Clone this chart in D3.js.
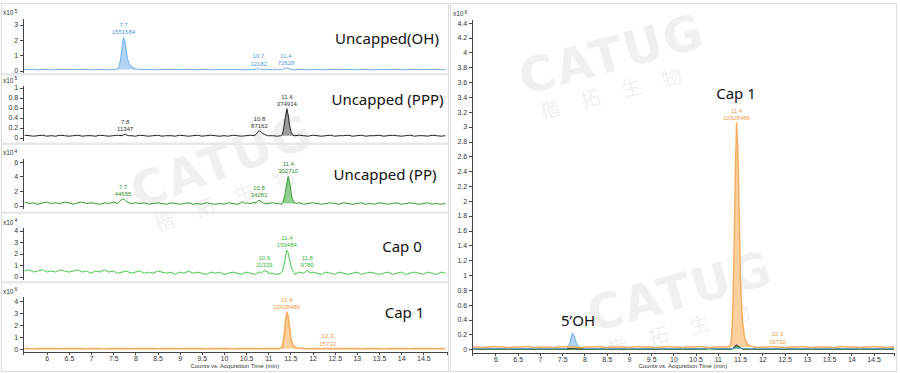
<!DOCTYPE html>
<html>
<head>
<meta charset="utf-8">
<script src="https://cdn.jsdelivr.net/npm/d3@7"></script>
<style>
  body { margin: 0; background: #fff; }
  svg { display: block; font-family: "Liberation Sans", Arial, sans-serif; }
  .axis path, .axis line { stroke: #444; shape-rendering: crispEdges; }
  .axis text { fill: #333; font-size: 7px; }
  .title { font-family: "Noto Sans", "Open Sans", sans-serif; font-size: 15px; fill: #111; }
</style>
</head>
<body>
<div class="chart"></div>
<script>
// stored chromatograms: scan start (min) and scan step (min)
const scanStart = 5.5;
const scanStep = 0.1;

// baselines, one value per scan (units of each panel's x10^n)
const ohBase = [0.08,0.07,0.09,0.06,0.08,0.07,0.06,0.08,0.07,0.09,
  0.07,0.06,0.08,0.07,0.08,0.06,0.07,0.09,0.07,0.06,
  0.08,0.07,0.06,0.08,0.07,0.08,0.09,0.08,0.07,0.06,
  0.07,0.08,0.06,0.07,0.08,0.07,0.06,0.07,0.08,0.06,
  0.07,0.08,0.07,0.06,0.07,0.08,0.07,0.06,0.08,0.07,
  0.06,0.07,0.08,0.07,0.06,0.08,0.07,0.06,0.07,0.08,
  0.07,0.06,0.08,0.07,0.06,0.07,0.08,0.07,0.06,0.07,
  0.08,0.07,0.06,0.08,0.07,0.06,0.07,0.08,0.07,0.06,
  0.07,0.08,0.07,0.06,0.08,0.07,0.06,0.07,0.08,0.07,
  0.06,0.07,0.08,0.07,0.06,0.07];
const pppBase = [0.05,0.04,0.03,0.04,0.05,0.03,0.04,0.03,0.05,0.04,
  0.03,0.04,0.05,0.03,0.04,0.04,0.03,0.05,0.04,0.03,
  0.04,0.05,0.04,0.03,0.04,0.03,0.05,0.04,0.03,0.04,
  0.05,0.03,0.04,0.04,0.03,0.05,0.04,0.03,0.04,0.05,
  0.03,0.04,0.05,0.04,0.03,0.04,0.03,0.05,0.04,0.03,
  0.04,0.05,0.03,0.04,0.05,0.04,0.04,0.03,0.05,0.04,
  0.03,0.04,0.05,0.04,0.03,0.05,0.04,0.03,0.04,0.05,
  0.03,0.04,0.04,0.05,0.03,0.04,0.05,0.03,0.04,0.04,
  0.05,0.03,0.04,0.05,0.04,0.03,0.04,0.05,0.03,0.04,
  0.04,0.03,0.05,0.04,0.03,0.04];
const ppBase = [0.5,0.3,0.4,0.2,0.4,0.5,0.3,0.4,0.3,0.5,
  0.4,0.2,0.4,0.5,0.3,0.4,0.3,0.2,0.4,0.3,
  0.5,0.3,0.4,0.3,0.2,0.4,0.3,0.4,0.2,0.3,
  0.4,0.3,0.2,0.4,0.3,0.2,0.3,0.4,0.2,0.3,
  0.2,0.4,0.3,0.2,0.3,0.2,0.4,0.3,0.2,0.3,
  0.4,0.3,0.5,0.3,0.2,0.3,0.4,0.3,0.2,0.3,
  0.2,0.3,0.4,0.2,0.3,0.4,0.3,0.2,0.3,0.4,
  0.3,0.2,0.4,0.3,0.2,0.3,0.4,0.2,0.3,0.2,
  0.4,0.3,0.2,0.3,0.4,0.2,0.3,0.4,0.3,0.2,
  0.3,0.4,0.2,0.3,0.2,0.3];
const cap0Base = [0.5,0.6,0.4,0.5,0.6,0.4,0.5,0.4,0.6,0.5,
  0.4,0.5,0.6,0.4,0.5,0.3,0.5,0.4,0.6,0.4,
  0.5,0.3,0.4,0.5,0.3,0.4,0.5,0.3,0.4,0.3,
  0.5,0.4,0.3,0.4,0.2,0.4,0.3,0.5,0.3,0.4,
  0.3,0.2,0.4,0.3,0.4,0.2,0.3,0.4,0.3,0.2,
  0.4,0.3,0.2,0.4,0.3,0.4,0.3,0.2,0.3,0.4,
  0.3,0.2,0.4,0.3,0.2,0.4,0.3,0.2,0.4,0.3,
  0.2,0.4,0.3,0.2,0.3,0.4,0.2,0.3,0.4,0.3,
  0.2,0.3,0.4,0.2,0.3,0.4,0.2,0.3,0.4,0.3,
  0.2,0.4,0.3,0.2,0.4,0.3];
const cap1Base = [0.03,0.03,0.02,0.03,0.03,0.04,0.03,0.03,0.02,0.03,
  0.03,0.03,0.04,0.03,0.02,0.03,0.03,0.03,0.02,0.03,
  0.03,0.04,0.03,0.03,0.02,0.03,0.03,0.03,0.04,0.03,
  0.02,0.03,0.03,0.03,0.03,0.02,0.03,0.04,0.03,0.03,
  0.03,0.02,0.03,0.03,0.04,0.03,0.03,0.02,0.03,0.03,
  0.03,0.04,0.03,0.02,0.03,0.03,0.03,0.03,0.02,0.03,
  0.04,0.03,0.03,0.03,0.02,0.03,0.03,0.04,0.03,0.03,
  0.02,0.03,0.03,0.03,0.04,0.03,0.02,0.03,0.03,0.03,
  0.03,0.02,0.03,0.04,0.03,0.03,0.03,0.02,0.03,0.03,
  0.04,0.03,0.03,0.02,0.03,0.03];

// peaks as [time, value] points
const ohPeaks = [
  [[7.58,0.08],[7.63,0.25],[7.67,0.8],[7.7,1.6],[7.73,2.18],[7.76,1.95],[7.79,1.35],[7.82,0.8],[7.86,0.45],[7.91,0.25],[7.97,0.15],[8.04,0.1],[8.1,0.08]],
  [[10.7,0.07],[10.74,0.1],[10.78,0.13],[10.82,0.1],[10.86,0.07]],
  [[11.3,0.07],[11.35,0.12],[11.4,0.17],[11.45,0.15],[11.5,0.1],[11.56,0.07]]
];
const pppPeaks = [
  [[7.7,0.04],[7.74,0.06],[7.77,0.07],[7.81,0.05],[7.85,0.04]],
  [[10.68,0.04],[10.73,0.07],[10.77,0.12],[10.8,0.14],[10.84,0.11],[10.88,0.08],[10.93,0.06],[10.98,0.04]],
  [[11.28,0.04],[11.32,0.07],[11.35,0.2],[11.38,0.38],[11.42,0.58],[11.45,0.45],[11.48,0.25],[11.52,0.1],[11.56,0.05],[11.6,0.04]]
];
const ppPeaks = [
  [[7.6,0.35],[7.65,0.6],[7.69,0.85],[7.72,0.95],[7.76,0.8],[7.8,0.55],[7.86,0.4],[7.92,0.3]],
  [[10.36,0.3],[10.41,0.55],[10.46,0.3]],
  [[10.7,0.3],[10.74,0.45],[10.79,0.75],[10.83,0.6],[10.88,0.4],[10.93,0.3]],
  [[11.3,0.3],[11.34,0.6],[11.38,1.6],[11.42,3.1],[11.45,4.0],[11.48,3.3],[11.51,2.0],[11.54,1.0],[11.58,0.5],[11.63,0.3]]
];
const cap0Peaks = [
  [[10.84,0.3],[10.88,0.45],[10.91,0.55],[10.95,0.45],[11.0,0.3]],
  [[11.28,0.3],[11.32,0.5],[11.36,1.1],[11.39,1.8],[11.42,2.3],[11.45,2.1],[11.48,1.5],[11.52,0.8],[11.56,0.45],[11.6,0.3]],
  [[11.8,0.3],[11.84,0.45],[11.88,0.55],[11.92,0.4],[11.96,0.3]]
];
const cap1Peaks = [
  [[11.26,0.03],[11.3,0.1],[11.33,0.4],[11.36,1.2],[11.39,2.3],[11.42,3.05],[11.45,2.7],[11.48,1.8],[11.51,0.9],[11.55,0.4],[11.6,0.15],[11.66,0.07],[11.74,0.04],[11.82,0.03]],
  [[12.3,0.03],[12.34,0.035],[12.38,0.03]]
];

// peak labels (RT, area), null = unlabeled
const ohLabels = [["7.7","1551684"],["10.7","12182"],["11.4","72628"]];
const pppLabels = [["7.8","11347"],["10.8","87162"],["11.4","374914"]];
const ppLabels = [["7.7","44655"],null,["10.8","34281"],["11.4","302710"]];
const cap0Labels = [["10.9","11339"],["11.4","159484"],["11.8","9780"]];
const cap1Labels = [["11.4","22628486"],["12.3","15732"]];

const titles = ["Uncapped(OH)", "Uncapped (PPP)", "Uncapped (PP)", "Cap 0", "Cap 1"];
const exponents = [5, 5, 4, 4, 6];
const filledPeak = [0, 2, 3, -1, 0];
const leftYTicks = [[0,1,2,3],[0,0.2,0.4,0.6,0.8,1],[0,2,4,6],[0,1,2,3,4],[0,1,2,3,4]];
const rightYTicks = [0,0.2,0.4,0.6,0.8,1,1.2,1.4,1.6,1.8,2,2.2,2.4,2.6,2.8,3,3.2,3.4,3.6,3.8,4,4.2,4.4];
const xTicks = [6,6.5,7,7.5,8,8.5,9,9.5,10,10.5,11,11.5,12,12.5,13,13.5,14,14.5];

const traces = [
  { base: ohBase, peaks: ohPeaks, labels: ohLabels, line: "#6aaeee", fill: "#b3d5f5", text: "#4f98e0" },
  { base: pppBase, peaks: pppPeaks, labels: pppLabels, line: "#222", fill: "#9c9c9c", text: "#333" },
  { base: ppBase, peaks: ppPeaks, labels: ppLabels, line: "#2f9b2f", fill: "#92d092", text: "#2f8f2f" },
  { base: cap0Base, peaks: cap0Peaks, labels: cap0Labels, line: "#45c945", fill: "#a8e6a8", text: "#3bb93b" },
  { base: cap1Base, peaks: cap1Peaks, labels: cap1Labels, line: "#f7ab5c", fill: "#fcd09e", text: "#f29b45" }
];

function buildTrace(base, peaks) {
  const pts = [];
  base.forEach((v, i) => {
    const t = scanStart + i * scanStep;
    if (!peaks.some(p => t > p[0][0] && t < p[p.length - 1][0])) pts.push([t, v]);
  });
  peaks.forEach(p => p.forEach(d => pts.push(d)));
  return pts.sort((a, b) => a[0] - b[0]);
}

const W = 900, H = 373;
const svg = d3.select(".chart").append("svg").attr("width", W).attr("height", H);

// frames
svg.append("rect").attr("x", 1.5).attr("y", 3.5).attr("width", 447).attr("height", 368)
  .attr("fill", "#fff").attr("stroke", "#dcdcdc");
svg.append("rect").attr("x", 450.5).attr("y", 3.5).attr("width", 446).attr("height", 368)
  .attr("fill", "#fff").attr("stroke", "#dcdcdc");

// watermarks (behind the traces)
[[612, 55, -15], [222, 162, -20], [680, 292, -15]].forEach(c => {
  const wm = svg.append("g").attr("transform", `translate(${c[0]},${c[1]}) rotate(${c[2]})`)
    .attr("fill", "#000").attr("opacity", 0.055).style("pointer-events", "none");
  wm.append("text").attr("text-anchor", "middle").attr("y", 16)
    .style("font-family", "'DejaVu Sans', sans-serif").style("font-weight", "bold")
    .style("font-size", "48px").style("letter-spacing", "2px").text("CATUG");
  wm.append("text").attr("text-anchor", "middle").attr("y", 44)
    .style("font-family", "'Noto Sans CJK SC', sans-serif").style("font-size", "20px")
    .style("letter-spacing", "22px").text("楷拓生物");
});

// left stacked panels (layout in px)
const panels = [
  { top: 18, bottom: 72.5, dom: [-0.12, 3.44], tx: 387, ty: 38 },
  { top: 85.7, bottom: 140, dom: [-0.046, 1.04], tx: 387.5, ty: 99 },
  { top: 158, bottom: 208.5, dom: [-0.38, 6.53], tx: 385, ty: 174 },
  { top: 227.7, bottom: 279, dom: [-0.2, 4.26], tx: 402, ty: 246 },
  { top: 296.7, bottom: 351.7, dom: [-0.225, 4.36], tx: 404.5, ty: 312 }
];
[74, 143.5, 212.5, 282].forEach(yy => {
  svg.append("rect").attr("x", 2).attr("y", yy - 1).attr("width", 446).attr("height", 2.5).attr("fill", "#e8e8e8");
});

const xLeft = d3.scaleLinear().domain([5.456, 15.035]).range([22.7, 447]);
const xRight = d3.scaleLinear().domain([5.465, 14.96]).range([471.7, 894]);

svg.append("defs").selectAll("clipPath")
  .data([["clipL", 22.7, 424.3], ["clipR", 471.7, 422.3]])
  .enter().append("clipPath").attr("id", d => d[0])
  .append("rect").attr("x", d => d[1]).attr("y", 0).attr("width", d => d[2]).attr("height", H);

function drawMultiplier(x, y, exp) {
  const t = svg.append("text").attr("x", x).attr("y", y).attr("fill", "#333").style("font-size", "6.5px");
  t.append("tspan").text("x10");
  t.append("tspan").attr("dy", -2.5).attr("dx", 1).style("font-size", "5px").text(exp);
}

function drawFill(g, x, y, pk, color) {
  const a = pk[0], b = pk[pk.length - 1];
  const base = t => a[1] + (b[1] - a[1]) * (t - a[0]) / (b[0] - a[0]);
  g.append("path").datum(pk)
    .attr("fill", color).attr("stroke", "none")
    .attr("d", d3.area().x(d => x(d[0])).y0(d => y(base(d[0]))).y1(d => y(d[1])));
}

function drawLine(g, x, y, pts, color, w) {
  g.append("path").datum(pts)
    .attr("fill", "none").attr("stroke", color).attr("stroke-width", w)
    .attr("stroke-linejoin", "round")
    .attr("d", d3.line().x(d => x(d[0])).y(d => y(d[1])));
}

function drawLabel(x, y, pk, lab, color) {
  const apex = pk.reduce((m, d) => d[1] > m[1] ? d : m, pk[0]);
  const px = x(apex[0]), py = y(apex[1]) - 3;
  svg.append("text").attr("x", px).attr("y", py - 7.2).attr("text-anchor", "middle")
    .attr("fill", color).style("font-size", "6px").text(lab[0]);
  svg.append("text").attr("x", px).attr("y", py).attr("text-anchor", "middle")
    .attr("fill", color).style("font-size", "6px").text(lab[1]);
}

traces.forEach((tr, i) => {
  const p = panels[i];
  const y = d3.scaleLinear().domain(p.dom).range([p.bottom, p.top]);
  const pts = buildTrace(tr.base, tr.peaks);
  const g = svg.append("g").attr("clip-path", "url(#clipL)");
  if (filledPeak[i] >= 0) drawFill(g, xLeft, y, tr.peaks[filledPeak[i]], tr.fill);
  drawLine(g, xLeft, y, pts, tr.line, i === 4 ? 1.6 : 1);
  tr.labels.forEach((lab, k) => { if (lab) drawLabel(xLeft, y, tr.peaks[k], lab, tr.text); });

  svg.append("g").attr("class", "axis")
    .attr("transform", "translate(22.7,0)")
    .call(d3.axisLeft(y).tickValues(leftYTicks[i]).tickSize(3).tickSizeOuter(0).tickPadding(1.5).tickFormat(d3.format("~g")));
  drawMultiplier(3, p.top - 3, exponents[i]);

  svg.append("text").attr("class", "title").attr("x", p.tx).attr("y", p.ty)
    .attr("text-anchor", "middle").attr("dominant-baseline", "central").text(titles[i]);
});

// left x axis
svg.append("g").attr("class", "axis").attr("transform", "translate(0,351.7)")
  .call(d3.axisBottom(xLeft).tickValues(xTicks).tickSize(3).tickSizeOuter(3).tickPadding(1.5).tickFormat(d3.format("~g")));
svg.append("text").attr("x", 234.8).attr("y", 368).attr("text-anchor", "middle")
  .attr("fill", "#333").style("font-size", "6px").text("Counts vs. Acquisition Time (min)");

// right overlay panel, all traces in x10^6
const yR = d3.scaleLinear().domain([-0.046, 4.447]).range([352.7, 19.3]);
const gR = svg.append("g").attr("clip-path", "url(#clipR)");
const scaled = traces.map((tr, i) => {
  const f = Math.pow(10, exponents[i] - 6);
  return {
    pts: buildTrace(tr.base, tr.peaks).map(d => [d[0], d[1] * f]),
    peaks: tr.peaks.map(pk => pk.map(d => [d[0], d[1] * f]))
  };
});
drawFill(gR, xRight, yR, scaled[4].peaks[0], traces[4].fill);
[0, 1, 2].forEach(i => drawFill(gR, xRight, yR, scaled[i].peaks[filledPeak[i]], traces[i].fill));
[3, 2, 1, 0].forEach(i => drawLine(gR, xRight, yR, scaled[i].pts, traces[i].line, 1));
drawLine(gR, xRight, yR, scaled[4].pts, traces[4].line, 1.4);
cap1Labels.forEach((lab, k) => drawLabel(xRight, yR, scaled[4].peaks[k], lab, traces[4].text));

svg.append("g").attr("class", "axis").attr("transform", "translate(471.7,0)")
  .call(d3.axisLeft(yR).tickValues(rightYTicks).tickSize(3).tickSizeOuter(0).tickPadding(1.5).tickFormat(d3.format("~g")));
svg.append("g").attr("class", "axis").attr("transform", "translate(0,352.7)")
  .call(d3.axisBottom(xRight).tickValues(xTicks).tickSize(3).tickSizeOuter(3).tickPadding(1.5).tickFormat(d3.format("~g")));
drawMultiplier(453, 16, 6);
svg.append("text").attr("x", 682.8).attr("y", 368).attr("text-anchor", "middle")
  .attr("fill", "#333").style("font-size", "6px").text("Counts vs. Acquisition Time (min)");

svg.append("text").attr("class", "title").attr("x", 736).attr("y", 93)
  .attr("text-anchor", "middle").attr("dominant-baseline", "central").text("Cap 1");
svg.append("text").attr("class", "title").attr("x", 578).attr("y", 320)
  .attr("text-anchor", "middle").attr("dominant-baseline", "central").text("5\u2019OH");
</script>
</body>
</html>
